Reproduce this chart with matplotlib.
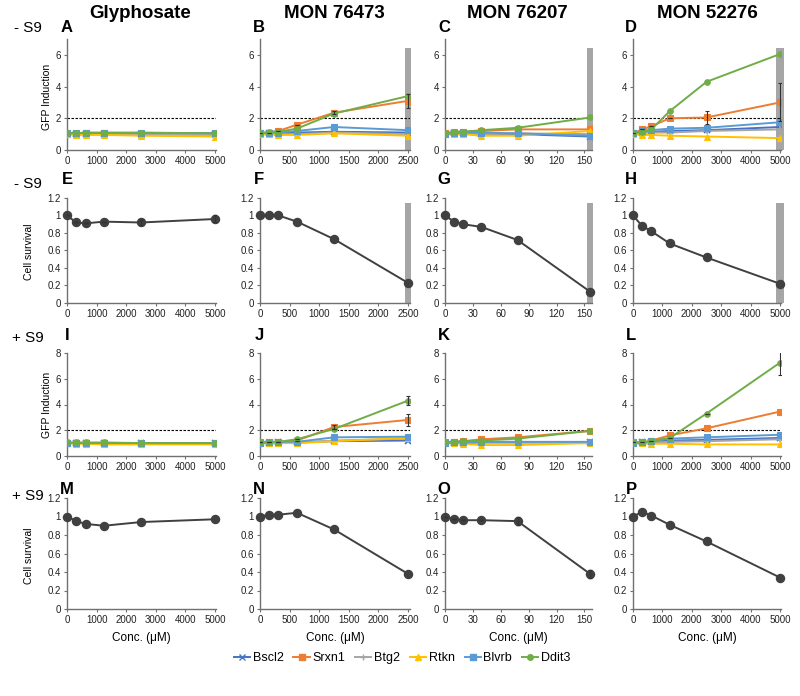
import matplotlib
matplotlib.use('Agg')
import matplotlib.pyplot as plt
from matplotlib.lines import Line2D

plt.rcParams['font.family'] = ['Liberation Sans', 'DejaVu Sans']

# ---------------- data ----------------
genes = ['Bscl2', 'Srxn1', 'Btg2', 'Rtkn', 'Blvrb', 'Ddit3']
gene_colors = ['#4472C4', '#ED7D31', '#A5A5A5', '#FFC000', '#5B9BD5', '#70AD47']
gene_markers = ['x', 's', '+', '^', 's', 'o']

compounds = ['Glyphosate', 'MON 76473', 'MON 76207', 'MON 52276']
conc_glyphosate = [0, 312.5, 625, 1250, 2500, 5000]
conc_mon76473 = [0, 156, 312, 625, 1250, 2500]
conc_mon76207 = [0, 9.75, 19.5, 39, 78, 156]
conc_mon52276 = [0, 312.5, 625, 1250, 2500, 5000]
xticks_glyphosate = [0, 1000, 2000, 3000, 4000, 5000]
xticks_mon76473 = [0, 500, 1000, 1500, 2000, 2500]
xticks_mon76207 = [0, 30, 60, 90, 120, 150]
xticks_mon52276 = [0, 1000, 2000, 3000, 4000, 5000]

# GFP induction, -S9 (rows: Bscl2, Srxn1, Btg2, Rtkn, Blvrb, Ddit3)
gfp_A = [[1.0, 1.0, 1.0, 1.0, 1.0, 1.0],
         [1.0, 1.0, 1.05, 1.05, 1.0, 1.0],
         [1.0, 1.0, 1.0, 1.0, 0.95, 0.95],
         [1.0, 0.95, 0.95, 0.95, 0.9, 0.85],
         [1.05, 1.05, 1.05, 1.05, 1.05, 1.05],
         [1.05, 1.05, 1.1, 1.1, 1.1, 1.05]]
gfp_B = [[1.0, 1.05, 1.05, 1.1, 1.15, 1.1],
         [1.05, 1.1, 1.2, 1.6, 2.35, 3.1],
         [1.0, 1.0, 1.0, 1.0, 1.1, 1.0],
         [1.0, 1.0, 0.95, 0.95, 1.05, 0.9],
         [1.05, 1.1, 1.1, 1.2, 1.45, 1.25],
         [1.05, 1.15, 1.15, 1.35, 2.3, 3.4]]
gfp_C = [[1.0, 1.05, 1.05, 1.0, 1.0, 0.85],
         [1.05, 1.15, 1.15, 1.2, 1.3, 1.3],
         [1.0, 1.0, 1.05, 1.0, 1.05, 1.0],
         [1.0, 1.0, 1.0, 0.9, 0.9, 1.2],
         [1.0, 1.05, 1.1, 1.1, 1.05, 0.9],
         [1.05, 1.15, 1.15, 1.25, 1.4, 2.05]]
gfp_D = [[1.0, 1.1, 1.15, 1.2, 1.25, 1.45],
         [1.05, 1.3, 1.5, 2.0, 2.05, 3.0],
         [1.0, 1.1, 1.1, 1.1, 1.2, 1.3],
         [1.0, 0.95, 0.95, 0.9, 0.85, 0.75],
         [1.05, 1.2, 1.25, 1.35, 1.4, 1.75],
         [1.05, 1.15, 1.3, 2.45, 4.3, 6.05]]
# GFP induction, +S9
gfp_I = [[1.0, 1.0, 1.0, 1.0, 1.0, 1.0],
         [1.0, 1.0, 1.0, 1.0, 1.0, 1.0],
         [1.0, 1.0, 1.0, 0.95, 0.95, 0.95],
         [1.0, 0.95, 0.95, 0.9, 0.9, 0.9],
         [1.0, 1.0, 1.0, 1.0, 1.0, 1.0],
         [1.05, 1.05, 1.05, 1.05, 1.0, 1.0]]
gfp_J = [[1.0, 1.0, 1.05, 1.05, 1.15, 1.2],
         [1.05, 1.1, 1.1, 1.2, 2.25, 2.8],
         [1.0, 1.0, 1.0, 1.05, 1.2, 1.35],
         [1.0, 1.0, 1.0, 1.0, 1.15, 1.4],
         [1.0, 1.05, 1.1, 1.1, 1.45, 1.5],
         [1.05, 1.1, 1.1, 1.3, 2.1, 4.3]]
gfp_K = [[1.0, 1.0, 1.0, 1.05, 1.05, 1.05],
         [1.05, 1.1, 1.15, 1.3, 1.45, 1.95],
         [1.0, 1.0, 1.05, 1.1, 1.1, 1.05],
         [1.0, 1.0, 0.95, 0.85, 0.85, 1.0],
         [1.0, 1.05, 1.05, 1.1, 1.1, 1.1],
         [1.05, 1.1, 1.15, 1.2, 1.35, 1.95]]
gfp_L = [[1.0, 1.05, 1.1, 1.2, 1.25, 1.4],
         [1.05, 1.05, 1.2, 1.6, 2.15, 3.45],
         [1.0, 1.0, 1.05, 1.1, 1.15, 1.3],
         [1.0, 1.0, 0.95, 0.95, 0.9, 0.9],
         [1.0, 1.05, 1.15, 1.35, 1.45, 1.65],
         [1.05, 1.05, 1.15, 1.4, 3.3, 7.25]]

# selected error bars (gene index -> list of errors)
gfp_err_B = {1: [0, 0, 0, 0, 0.1, 0.45]}
gfp_err_D = {1: [0, 0, 0, 0, 0.4, 1.2]}
gfp_err_J = {1: [0, 0, 0, 0, 0.15, 0.5], 5: [0, 0, 0, 0, 0, 0.35]}
gfp_err_L = {5: [0, 0, 0, 0, 0, 0.95]}

# cell survival
surv_E = [1.0, 0.92, 0.91, 0.93, 0.92, 0.96]
surv_F = [1.0, 1.0, 1.0, 0.93, 0.73, 0.23]
surv_G = [1.0, 0.93, 0.9, 0.87, 0.72, 0.13]
surv_H = [1.0, 0.88, 0.82, 0.68, 0.52, 0.22]
surv_M = [1.0, 0.95, 0.92, 0.9, 0.94, 0.97]
surv_N = [1.0, 1.02, 1.02, 1.04, 0.86, 0.38]
surv_O = [1.0, 0.97, 0.96, 0.96, 0.95, 0.38]
surv_P = [1.0, 1.05, 1.01, 0.91, 0.73, 0.34]
surv_err_E = [0, 0, 0, 0, 0.03, 0.04]
surv_err_O = [0, 0, 0, 0, 0.04, 0.04]

# ---------------- layout ----------------
W, H = 800, 696
fig = plt.figure(figsize=(W / 100, H / 100), dpi=100)

col_px = [(67, 215), (260, 408), (445, 590), (633, 780)]   # x of 0 and of max conc
row_px = [(39, 150), (198, 303), (353, 456), (498, 609)]
concs = [conc_glyphosate, conc_mon76473, conc_mon76207, conc_mon52276]
xticks = [xticks_glyphosate, xticks_mon76473, xticks_mon76207, xticks_mon52276]
xmax = [5050, 2530, 158, 5050]

gfp_rows = [[gfp_A, gfp_B, gfp_C, gfp_D], [gfp_I, gfp_J, gfp_K, gfp_L]]
gfp_errs = [[{}, gfp_err_B, {}, gfp_err_D], [{}, gfp_err_J, {}, gfp_err_L]]
surv_rows = [[surv_E, surv_F, surv_G, surv_H], [surv_M, surv_N, surv_O, surv_P]]
surv_errs = [[surv_err_E, None, None, None], [None, None, surv_err_O, None]]
letters = ['ABCD', 'EFGH', 'IJKL', 'MNOP']
toxic_bar = [[False, True, True, True], [False, True, True, True],
             [False, False, False, False], [False, False, False, False]]
bar_w = [200, 110, 7, 300]

spine_c = '#707070'


def make_ax(r, c):
    (x0, x1), (y0, y1) = col_px[c], row_px[r]
    maxc = concs[c][-1]
    wpx = (x1 - x0) * xmax[c] / maxc
    ax = fig.add_axes([x0 / W, 1 - y1 / H, wpx / W, (y1 - y0) / H])
    ax.set_xlim(0, xmax[c])
    for s in ['top', 'right']:
        ax.spines[s].set_visible(False)
    for s in ['left', 'bottom']:
        ax.spines[s].set_color(spine_c)
        ax.spines[s].set_linewidth(1.0)
    ax.set_xticks(xticks[c])
    ax.tick_params(labelsize=7, length=2.5, width=0.8, color=spine_c,
                   labelcolor='#222222', pad=2)
    ax.patch.set_alpha(0)
    return ax


for r in range(4):
    for c in range(4):
        ax = make_ax(r, c)
        x = concs[c]
        is_gfp = r in (0, 2)
        if is_gfp:
            ymax = 7 if r == 0 else 8
            ax.set_ylim(0, ymax)
            ax.set_yticks(range(0, ymax + 1, 2))
            ax.axhline(2, color='black', lw=0.8, ls=(0, (2.2, 1.4)), zorder=2)
            data = gfp_rows[r // 2][c]
            errs = gfp_errs[r // 2][c]
            if toxic_bar[r][c]:
                ax.bar([x[-1]], [6.45], width=bar_w[c], color='#A6A6A6',
                       zorder=1, clip_on=False)
            for g in range(6):
                mk = gene_markers[g]
                ax.plot(x, data[g], color=gene_colors[g], marker=mk,
                        ms=4.5 if mk in 'x+' else 4, mew=1.2 if mk in 'x+' else 0.8,
                        lw=1.4, zorder=3 + g)
                if g in errs:
                    ax.errorbar(x, data[g], yerr=errs[g], fmt='none',
                                ecolor='#333333', elinewidth=0.8, capsize=1.5,
                                capthick=0.8, zorder=10)
        else:
            ax.set_ylim(0, 1.2)
            ax.set_yticks([0, 0.2, 0.4, 0.6, 0.8, 1.0, 1.2])
            ax.set_yticklabels(['0', '0.2', '0.4', '0.6', '0.8', '1', '1.2'])
            if toxic_bar[r][c]:
                ax.bar([x[-1]], [1.14], width=bar_w[c], color='#A6A6A6',
                       zorder=1, clip_on=False)
            y = surv_rows[r // 2][c]
            ax.plot(x, y, color='#404040', marker='o', ms=5.8, lw=1.4, zorder=3,
                    clip_on=False)
            e = surv_errs[r // 2][c]
            if e is not None:
                ax.errorbar(x, y, yerr=e, fmt='none', ecolor='#333333',
                            elinewidth=0.8, capsize=1.5, zorder=4)
            if r == 3:
                ax.set_xlabel('Conc. (\u03bcM)', fontsize=8.5, labelpad=5)
        # panel letters
        lx = [67, 259, 444, 631][c]
        ly = [27, 180, 335, 490][r]
        fig.text(lx / W, 1 - ly / H, letters[r][c], fontsize=12, fontweight='bold',
                 ha='center', va='center')

# column titles
for c, name in enumerate(compounds):
    cx = [140, 334, 517, 707][c]
    fig.text(cx / W, 1 - 14 / H, name, fontsize=13.5, fontweight='bold',
             ha='center', va='center')

# row labels
for txt, yy in [('- S9', 28), ('- S9', 184), ('+ S9', 338), ('+ S9', 496)]:
    fig.text(28 / W, 1 - yy / H, txt, fontsize=11, ha='center', va='center')

# y labels
fig.text(47 / W, 1 - 97 / H, 'GFP Induction', rotation=90, fontsize=7.5,
         ha='center', va='center')
fig.text(47 / W, 1 - 405 / H, 'GFP Induction', rotation=90, fontsize=7.5,
         ha='center', va='center')
fig.text(29 / W, 1 - 252 / H, 'Cell survival', rotation=90, fontsize=7.5,
         ha='center', va='center')
fig.text(29 / W, 1 - 556 / H, 'Cell survival', rotation=90, fontsize=7.5,
         ha='center', va='center')

# legend
handles = [Line2D([0], [0], color=gene_colors[g], marker=gene_markers[g],
                  ms=4 if gene_markers[g] not in 'x+' else 4.5, lw=1.4,
                  mew=1.0) for g in range(6)]
fig.legend(handles, genes, loc='center', bbox_to_anchor=(402 / W, 1 - 658 / H),
           ncol=6, frameon=False, fontsize=9, handlelength=1.3,
           handletextpad=0.2, columnspacing=0.8)

fig.savefig('out.png', dpi=100)
